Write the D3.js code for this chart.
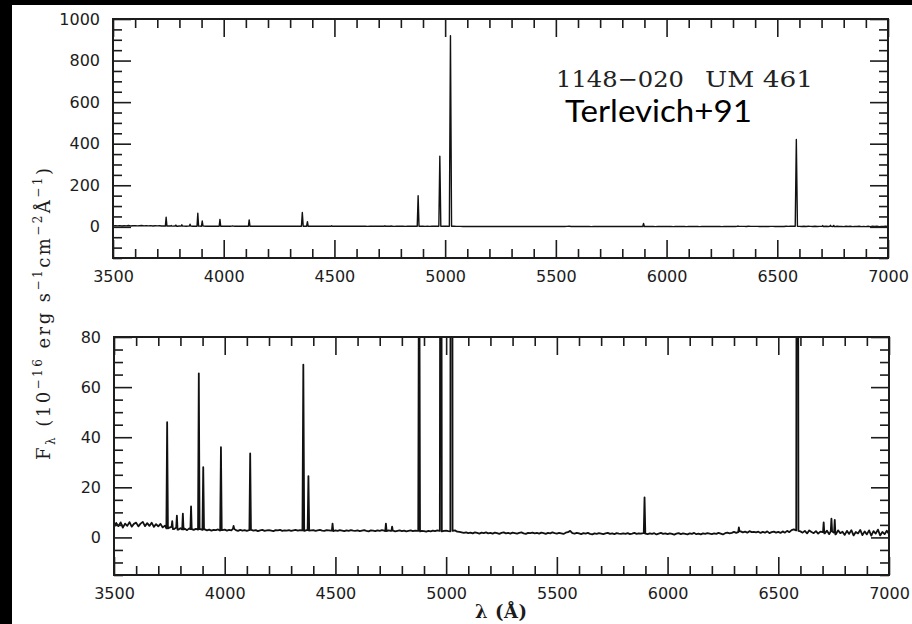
<!DOCTYPE html>
<html>
<head>
<meta charset="utf-8">
<script src="https://cdn.jsdelivr.net/npm/d3@7"></script>
<style>
  body { margin: 0; background: #000; }
  svg { display: block; }
</style>
</head>
<body>
<div class="chart"></div>
<script>
// continuum of the spectrum, one value every 10 A from 3500 A
const contStart = 3500;
const contStep = 10;
const contFlux = [
  4.1, 5.8, 4.5, 6.0, 3.9, 5.5, 4.6, 6.1, 4.3, 5.4,
  5.9, 4.4, 5.5, 6.2, 4.5, 5.7, 4.6, 5.9, 4.2, 5.3,
  4.4, 5.4, 4.0, 4.7, 3.6, 3.9, 4.2, 3.3, 3.9, 3.1,
  3.7, 3.2, 3.5, 2.9, 3.6, 3.3, 3.0, 3.4, 3.1, 3.3,
  3.0, 3.2, 2.8, 3.1, 2.7, 3.0, 2.9, 3.2, 2.7, 2.9,
  3.1, 2.7, 3.0, 2.8, 3.4, 2.9, 2.6, 3.0, 2.7, 2.9,
  2.6, 2.9, 3.0, 2.7, 2.9, 2.5, 2.8, 3.0, 2.6, 2.8,
  2.9, 2.7, 2.5, 2.9, 2.8, 3.0, 2.6, 2.8, 2.7, 2.9,
  2.6, 2.8, 3.0, 2.7, 2.9, 2.8, 2.6, 2.9, 2.7, 2.8,
  2.9, 2.6, 2.8, 3.0, 2.7, 2.6, 2.9, 2.8, 2.7, 2.5,
  2.8, 2.6, 2.9, 2.7, 2.5, 2.8, 2.6, 2.9, 2.7, 2.6,
  2.8, 2.5, 2.7, 2.9, 2.6, 2.4, 2.8, 2.7, 2.5, 2.8,
  2.6, 2.9, 2.7, 2.5, 2.8, 2.6, 2.7, 2.4, 2.6, 2.8,
  2.5, 2.7, 2.4, 2.6, 2.8, 2.5, 2.7, 2.6, 2.4, 2.6,
  2.5, 2.3, 2.6, 2.4, 2.7, 2.5, 2.8, 2.6, 2.4, 2.6,
  2.7, 2.5, 2.4, 2.6, 2.8, 2.3, 2.2, 2.0, 1.8, 2.0,
  1.7, 1.9, 1.6, 2.0, 1.8, 1.5, 1.9, 1.7, 2.0, 1.6,
  1.8, 1.5, 1.9, 1.7, 1.4, 1.8, 2.0, 1.6, 1.8, 1.5,
  1.9, 1.7, 1.5, 1.8, 2.0, 1.6, 1.4, 1.8, 1.7, 1.9,
  1.6, 1.8, 1.5, 1.9, 1.7, 1.4, 1.8, 1.6, 2.0, 1.7,
  1.5, 1.8, 1.6, 1.4, 1.9, 2.1, 2.6, 1.7, 1.5, 1.8,
  1.6, 1.3, 1.7, 1.5, 1.8, 1.4, 1.2, 1.6, 1.4, 1.7,
  1.5, 1.3, 1.6, 1.8, 1.4, 1.6, 1.3, 1.7, 1.5, 1.4,
  1.6, 1.4, 1.7, 1.3, 1.5, 1.8, 1.4, 1.6, 1.5, 1.7,
  1.5, 1.3, 1.6, 1.4, 1.7, 1.2, 1.5, 1.8, 1.4, 1.6,
  1.3, 1.6, 1.4, 1.1, 1.5, 1.7, 1.3, 1.6, 1.4, 1.2,
  1.6, 1.4, 1.8, 1.3, 1.5, 1.2, 1.6, 1.4, 1.7, 1.5,
  1.3, 1.6, 1.4, 1.8, 1.5, 1.2, 1.7, 1.9, 1.6, 1.8,
  2.2, 1.8, 2.1, 2.4, 2.0, 2.3, 1.9, 2.5, 2.1, 2.2,
  2.0, 2.3, 1.8, 2.2, 1.9, 2.4, 1.7, 2.1, 2.3, 1.9,
  2.2, 1.8, 2.4, 1.9, 2.6, 2.1, 2.9, 3.2, 2.8, 2.6,
  2.4, 1.9, 2.6, 1.6, 2.8, 2.2, 1.7, 2.5, 1.5, 2.3,
  2.1, 1.6, 2.7, 1.3, 2.4, 1.9, 1.2, 2.8, 1.7, 2.3,
  1.0, 2.6, 1.4, 2.9, 0.8, 2.2, 1.6, 3.0, 0.9, 2.4,
  1.2, 2.8, 0.7, 2.5, 1.5, 3.1, 0.8, 2.2, 1.3, 2.7,
  1.4
];

// emission lines: observed wavelength (A), peak flux, half width at base (A)
const lineWave =      [3740, 3763, 3784, 3811, 3848, 3883, 3903, 3983, 4040, 4115, 4355, 4378, 4487, 4728, 4756, 4878, 4976, 5024, 5896, 6322, 6586, 6705, 6740, 6755];
const linePeak =      [46,   6.5,  8.7,  9.5,  12.4, 65.5, 28,   36,   4.6,  33.5, 69,   24.5, 5.5,  5.5,  4.3,  150,  340,  920,  16,   4,    420,  6,    7.5,  7];
const lineHalfWidth = [3.5,  3,    3,    3,    3,    3.5,  3.5,  3.5,  3,    3.5,  4,    3.5,  3,    3,    3,    4,    4.5,  5,    3.5,  3,    5,    3,    3,    3];

const xTicks = [3500, 4000, 4500, 5000, 5500, 6000, 6500, 7000];
const topYTicks = [0, 200, 400, 600, 800, 1000];
const botYTicks = [0, 20, 40, 60, 80];

// put continuum and line peaks together into one spectrum
const nearCont = w => contFlux[Math.round((w - contStart) / contStep)];
let spectrum = contFlux.map((f, i) => ({ w: contStart + i * contStep, f: f }));
lineWave.forEach((c, i) => {
    const hw = lineHalfWidth[i];
    spectrum = spectrum.filter(p => p.w < c - hw || p.w > c + hw);
    spectrum.push({ w: c - hw, f: nearCont(c - hw) }, { w: c, f: linePeak[i] }, { w: c + hw, f: nearCont(c + hw) });
});
spectrum.sort((a, b) => a.w - b.w);

const w = 912;
const h = 624;

const svg = d3.select(".chart")
    .append("svg")
    .attr("width", w)
    .attr("height", h);

svg.append("rect")
    .attr("x", 12).attr("y", 5)
    .attr("width", w - 12).attr("height", h - 5)
    .attr("fill", "#fff");

const panels = [
    { id: "top", left: 113, right: 888, top: 19, bottom: 258, yDomain: [-150, 1000], yTicks: topYTicks, yMinor: 50, lineW: 1.4 },
    { id: "bot", left: 114, right: 889, top: 337, bottom: 575, yDomain: [-15, 80], yTicks: botYTicks, yMinor: 5, lineW: 1.8 }
];

const ink = "#1c1c1c";
const majorLen = 18;
const minorLen = 9;

panels.forEach(p => {
    const xScale = d3.scaleLinear().domain([3500, 7000]).range([p.left, p.right]);
    const yScale = d3.scaleLinear().domain(p.yDomain).range([p.bottom, p.top]);

    const xMinor = d3.range(3500, 7001, 100).filter(v => !xTicks.includes(v));
    const yMinor = d3.range(p.yDomain[0], p.yDomain[1] + 0.001, p.yMinor).filter(v => !p.yTicks.includes(v));

    const g = svg.append("g").attr("class", "panel-" + p.id);

    // spectrum
    g.append("clipPath").attr("id", "clip-" + p.id)
        .append("rect")
        .attr("x", p.left).attr("y", p.top)
        .attr("width", p.right - p.left).attr("height", p.bottom - p.top);

    g.append("path")
        .datum(spectrum)
        .attr("clip-path", `url(#clip-${p.id})`)
        .attr("fill", "none")
        .attr("stroke", "#111")
        .attr("stroke-width", p.lineW)
        .attr("stroke-linejoin", "round")
        .attr("d", d3.line()
            .x(d => xScale(d.w))
            .y(d => yScale(d.f)));

    // ticks on all four sides, pointing inward
    const addAxis = (axis, transform, cls) => {
        const a = g.append("g")
            .attr("class", cls)
            .attr("transform", transform)
            .call(axis);
        a.select(".domain").remove();
        a.selectAll(".tick line").attr("stroke", ink).attr("stroke-width", 1.6);
        a.selectAll("text")
            .attr("fill", ink)
            .style("font-family", "'DejaVu Sans', sans-serif")
            .style("font-size", "16px");
        return a;
    };

    addAxis(d3.axisBottom(xScale).tickValues(xTicks).tickSize(-majorLen).tickPadding(13).tickFormat(d3.format("d")),
        `translate(0,${p.bottom})`, "axisX");
    addAxis(d3.axisBottom(xScale).tickValues(xMinor).tickSize(-minorLen).tickFormat(""), `translate(0,${p.bottom})`, "axisXMinor");
    addAxis(d3.axisTop(xScale).tickValues(xTicks).tickSize(-majorLen).tickFormat(""), `translate(0,${p.top})`, "axisXTop");
    addAxis(d3.axisTop(xScale).tickValues(xMinor).tickSize(-minorLen).tickFormat(""), `translate(0,${p.top})`, "axisXTopMinor");

    addAxis(d3.axisLeft(yScale).tickValues(p.yTicks).tickSize(-majorLen).tickPadding(13).tickFormat(d3.format("d")),
        `translate(${p.left},0)`, "axisY");
    addAxis(d3.axisLeft(yScale).tickValues(yMinor).tickSize(-minorLen).tickFormat(""), `translate(${p.left},0)`, "axisYMinor");
    addAxis(d3.axisRight(yScale).tickValues(p.yTicks).tickSize(-majorLen).tickFormat(""), `translate(${p.right},0)`, "axisYRight");
    addAxis(d3.axisRight(yScale).tickValues(yMinor).tickSize(-minorLen).tickFormat(""), `translate(${p.right},0)`, "axisYRightMinor");

    // frame
    g.append("rect")
        .attr("x", p.left).attr("y", p.top)
        .attr("width", p.right - p.left).attr("height", p.bottom - p.top)
        .attr("fill", "none")
        .attr("stroke", ink)
        .attr("stroke-width", 2);
});

// y label, shared by both panels
const yLabel = svg.append("text")
    .attr("transform", "translate(50,314) rotate(-90)")
    .attr("text-anchor", "middle")
    .attr("fill", ink)
    .attr("textLength", 292)
    .attr("lengthAdjust", "spacing")
    .style("font-family", "'DejaVu Serif', serif")
    .style("font-size", "18px");
const parts = [
    ["F", 0, 18], ["λ", 5, 12], [" (10", -5, 18], ["−16", -8, 12], [" erg s", 8, 18],
    ["−1", -8, 12], ["cm", 8, 18], ["−2", -8, 12], ["Å", 8, 18], ["−1", -8, 12], [")", 8, 18]
];
parts.forEach(([t, dy, fs]) => {
    yLabel.append("tspan").attr("dy", dy).style("font-size", fs + "px").text(t);
});

svg.append("text")
    .text("λ (Å)")
    .attr("x", 501).attr("y", 618)
    .attr("text-anchor", "middle")
    .attr("fill", ink)
    .attr("textLength", 52)
    .attr("lengthAdjust", "spacing")
    .style("font-family", "'DejaVu Serif', serif")
    .style("font-size", "18px")
    .style("font-weight", "bold");

// object name and reference
svg.append("text")
    .text("1148−020")
    .attr("x", 556).attr("y", 87)
    .attr("fill", "#222")
    .attr("textLength", 128)
    .attr("lengthAdjust", "spacingAndGlyphs")
    .style("font-family", "'DejaVu Serif', serif")
    .style("font-size", "23px");

svg.append("text")
    .text("UM 461")
    .attr("x", 705).attr("y", 87)
    .attr("fill", "#222")
    .attr("textLength", 108)
    .attr("lengthAdjust", "spacingAndGlyphs")
    .style("font-family", "'DejaVu Serif', serif")
    .style("font-size", "23px");

svg.append("text")
    .text("Terlevich+91")
    .attr("x", 565).attr("y", 122)
    .attr("fill", "#000")
    .attr("textLength", 187)
    .attr("lengthAdjust", "spacingAndGlyphs")
    .style("font-family", "Lato, 'Open Sans', sans-serif")
    .style("font-size", "31px");
</script>
</body>
</html>
